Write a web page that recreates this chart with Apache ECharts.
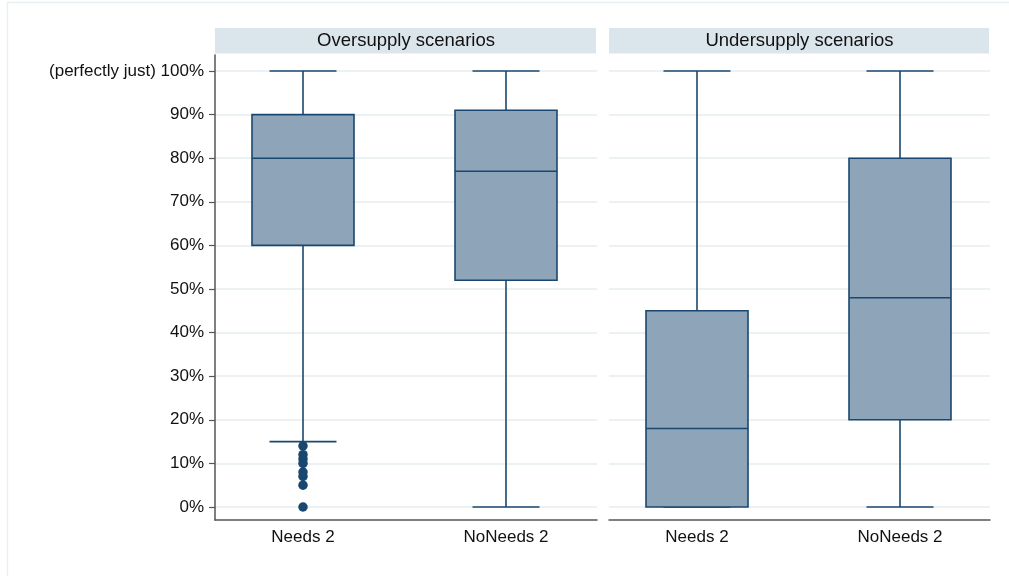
<!DOCTYPE html>
<html><head><meta charset="utf-8">
<script src="https://cdn.jsdelivr.net/npm/echarts@6/dist/echarts.min.js"></script>
<style>html,body{margin:0;padding:0;background:#fff}#c{width:1009px;height:576px}</style>
</head><body><div id="c"></div>
<script>
const categories = ['Needs 2', 'NoNeeds 2'];
const panelTitles = ['Oversupply scenarios', 'Undersupply scenarios'];
// [lower whisker, Q1, median, Q3, upper whisker] in percent
const oversupplyStats = [[15, 60, 80, 90, 100], [0, 52, 77, 91, 100]];
const undersupplyStats = [[0, 0, 18, 45, 100], [0, 20, 48, 80, 100]];
const oversupplyNeedsOutliers = [0, 5, 7, 8, 10, 11, 12, 14];
const yTickStep = 10;

const FONT = "'Liberation Sans', Arial, sans-serif";
const NAVY = '#1a476f';
const AXIS = '#555555';
const GRIDC = '#e6eef1';

const panels = [
  { left: 215, width: 382, boxLeft: 201.5, showY: true },
  { left: 609, width: 381, boxLeft: 595.5, showY: false }
];
const TOP_FRAME = 55, H_FRAME = 465, TOP_DATA = 71, H_DATA = 436;

const grids = [], xAxes = [], yAxes = [];
panels.forEach((p, i) => {
  grids.push({ left: p.left, top: TOP_FRAME, width: p.width, height: H_FRAME });
  grids.push({ left: p.left, top: TOP_DATA, width: p.width, height: H_DATA });
  grids.push({ left: p.boxLeft, top: TOP_DATA, width: 406, height: H_DATA });
  const g = i * 3;
  xAxes.push({ gridIndex: g, type: 'value', min: 0, max: 1,
    axisLine: { show: true, onZero: false, lineStyle: { color: AXIS, width: 1.5 } },
    axisTick: { show: false }, axisLabel: { show: false }, splitLine: { show: false } });
  xAxes.push({ gridIndex: g + 1, type: 'value', show: false, min: 0, max: 1 });
  xAxes.push({ gridIndex: g + 2, type: 'category', data: categories, boundaryGap: true,
    axisLine: { show: false }, axisTick: { show: false },
    axisLabel: { show: true, margin: 22, color: '#111', fontSize: 17, fontFamily: FONT },
    splitLine: { show: false } });
  yAxes.push({ gridIndex: g, type: 'value', min: 0, max: 1,
    axisLine: { show: p.showY, onZero: false, lineStyle: { color: AXIS, width: 1.5 } },
    axisTick: { show: false }, axisLabel: { show: false }, splitLine: { show: false } });
  yAxes.push({ gridIndex: g + 1, type: 'value', min: 0, max: 100, interval: yTickStep,
    axisLine: { show: false },
    axisTick: { show: p.showY, length: 6, lineStyle: { color: AXIS, width: 1.2 } },
    axisLabel: { show: p.showY, margin: 11, color: '#111', fontSize: 17, fontFamily: FONT,
      formatter: v => (v === 100 ? '(perfectly just) 100%' : v + '%') },
    splitLine: { show: true, lineStyle: { color: GRIDC, width: 1.5 } } });
  yAxes.push({ gridIndex: g + 2, type: 'value', min: 0, max: 100, show: false });
});

function renderBox(params, api) {
  const c = api.value(0);
  const lo = api.coord([c, api.value(1)]);
  const q1 = api.coord([c, api.value(2)]);
  const md = api.coord([c, api.value(3)]);
  const q3 = api.coord([c, api.value(4)]);
  const hi = api.coord([c, api.value(5)]);
  const x = lo[0], bw = 102, cw = 67;
  const st = { stroke: NAVY, lineWidth: 1.6 };
  return { type: 'group', children: [
    { type: 'line', shape: { x1: x, y1: hi[1], x2: x, y2: q3[1] }, style: st },
    { type: 'line', shape: { x1: x, y1: q1[1], x2: x, y2: lo[1] }, style: st },
    { type: 'line', shape: { x1: x - cw / 2, y1: hi[1], x2: x + cw / 2, y2: hi[1] }, style: st },
    { type: 'line', shape: { x1: x - cw / 2, y1: lo[1], x2: x + cw / 2, y2: lo[1] }, style: st },
    { type: 'rect', shape: { x: x - bw / 2, y: q3[1], width: bw, height: q1[1] - q3[1] },
      style: { fill: '#8ea5b9', stroke: NAVY, lineWidth: 1.6 } },
    { type: 'line', shape: { x1: x - bw / 2, y1: md[1], x2: x + bw / 2, y2: md[1] }, style: st }
  ] };
}

const boxData = stats => stats.map((s, i) => [i].concat(s));

const series = [
  { type: 'scatter', xAxisIndex: 2, yAxisIndex: 2, symbol: 'circle', symbolSize: 9.5,
    itemStyle: { color: NAVY, opacity: 1 }, data: oversupplyNeedsOutliers.map(v => [0, v]), z: 3 },
  { type: 'custom', xAxisIndex: 2, yAxisIndex: 2, renderItem: renderBox, clip: false,
    encode: { x: 0, y: [1, 2, 3, 4, 5] }, data: boxData(oversupplyStats), z: 4 },
  { type: 'custom', xAxisIndex: 5, yAxisIndex: 5, renderItem: renderBox, clip: false,
    encode: { x: 0, y: [1, 2, 3, 4, 5] }, data: boxData(undersupplyStats), z: 4 }
];

const graphic = [
  { type: 'rect', shape: { x: 7.5, y: 2.5, width: 1200, height: 800 },
    style: { fill: 'none', stroke: '#e6eff1', lineWidth: 1.5 }, silent: true },
];
panels.forEach((p, i) => {
  graphic.push({ type: 'rect', shape: { x: p.left, y: 28, width: p.width - 1, height: 25.5 },
    style: { fill: '#dbe5ec' }, silent: true });
  graphic.push({ type: 'text', x: p.left + p.width / 2, y: 41,
    style: { text: panelTitles[i], fill: '#111', font: '18.5px ' + FONT, align: 'center', verticalAlign: 'middle' },
    silent: true });
});

const chart = echarts.init(document.getElementById('c'), null, { renderer: 'canvas' });
chart.setOption({
  animation: false,
  backgroundColor: '#ffffff',
  grid: grids, xAxis: xAxes, yAxis: yAxes, series: series, graphic: graphic
});
</script></body></html>
